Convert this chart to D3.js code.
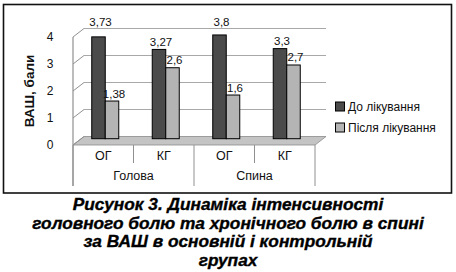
<!DOCTYPE html>
<html>
<head>
<meta charset="utf-8">
<script src="https://cdn.jsdelivr.net/npm/d3@7"></script>
<style>
  body { margin: 0; background: #fff; }
  text { font-family: "Liberation Sans", Arial, sans-serif; }
</style>
</head>
<body>
<svg id="chart"></svg>
<script>
// chart data
const categories = ["ОГ", "КГ", "ОГ", "КГ"];
const groups = ["Голова", "Спина"];
const series = ["До лікування", "Після лікування"];
const before = [3.73, 3.27, 3.8, 3.3];
const after = [1.38, 2.6, 1.6, 2.7];
const yTicks = [0, 1, 2, 3, 4];
const yTitle = "ВАШ, бали";
const caption = [
  "Рисунок 3. Динаміка інтенсивності",
  "головного болю та хронічного болю в спині",
  "за ВАШ в основній і контрольній",
  "групах"
];

const WIDTH = 456, HEIGHT = 272;
const colors = ["#4b4b4b", "#b4b4b4"];

// 3d depth offset of the back wall
const DX = 11, DY = -8.5;

const svg = d3.select("#chart").attr("width", WIDTH).attr("height", HEIGHT);

// frame
svg.append("rect")
  .attr("x", 3.5).attr("y", 4.5).attr("width", 448).attr("height", 188.5)
  .attr("fill", "none").attr("stroke", "#111").attr("stroke-width", 1.6);

const x = d3.scaleBand().domain(d3.range(categories.length)).range([73, 315]);
const xs = d3.scaleBand().domain(series).range([0, x.bandwidth()]).paddingOuter(1.24);
const yFront = d3.scaleLinear().domain([0, 4]).range([145, 37]);
const yBack = d3.scaleLinear().domain([0, 4]).range([136.5, 28.5]);
const yBar = d3.scaleLinear().domain([0, 4]).range([138.7, 29.5]);

const x0 = x.range()[0], x1 = x.range()[1];

// floor
svg.append("polygon")
  .attr("points", [[x0, yFront(0)], [x1, yFront(0)], [x1 + DX, yBack(0)], [x0 + DX, yBack(0)]].join(" "))
  .attr("fill", "#c4c4c4").attr("stroke", "#8a8a8a").attr("stroke-width", 0.8);

// back wall gridlines + slanted ticks
yTicks.filter(t => t > 0).forEach(t => {
  svg.append("line")
    .attr("x1", x0 + DX).attr("x2", x1 + DX)
    .attr("y1", yBack(t)).attr("y2", yBack(t))
    .attr("stroke", "#a8a8a8").attr("stroke-width", 1);
});
yTicks.forEach(t => {
  svg.append("line")
    .attr("x1", x0).attr("y1", yFront(t))
    .attr("x2", x0 + DX).attr("y2", yBack(t))
    .attr("stroke", "#909090").attr("stroke-width", 1);
});

// value axis line
svg.append("line")
  .attr("x1", x0).attr("x2", x0).attr("y1", yFront(4)).attr("y2", 186)
  .attr("stroke", "#909090").attr("stroke-width", 1.2);

svg.selectAll(".tick")
  .data(yTicks).enter().append("text")
  .attr("x", 50).attr("y", t => yFront(t) + 4)
  .attr("text-anchor", "middle").attr("font-size", 12).attr("fill", "#111")
  .text(d => d);

svg.append("text")
  .attr("transform", `translate(34,${(yFront(0) + yFront(4)) / 2}) rotate(-90)`)
  .attr("text-anchor", "middle").attr("font-size", 13.5).attr("font-weight", "bold")
  .attr("fill", "#111")
  .text(yTitle);

// bars
const barShift = 2;
const rows = categories.map((c, i) => ({ i, values: [before[i], after[i]] }));
rows.forEach(r => {
  r.values.forEach((v, k) => {
    const bx = x(r.i) + xs(series[k]) + barShift;
    svg.append("rect")
      .attr("x", bx).attr("y", yBar(v))
      .attr("width", xs.bandwidth()).attr("height", yBar(0) - yBar(v))
      .attr("fill", colors[k]).attr("stroke", "#000").attr("stroke-width", 1);
    // labels of tall bars go above the top gridline
    let ly = yBar(v) - 3.5;
    if (ly < yBack(4) + 8) ly = yBack(4) - 3;
    svg.append("text")
      .attr("x", bx + xs.bandwidth() / 2 + 2).attr("y", ly)
      .attr("text-anchor", "middle").attr("font-size", 11.5).attr("fill", "#111")
      .text(String(v).replace(".", ","));
  });
});

// category axis
d3.range(categories.length + 1).forEach(i => {
  const xx = i < categories.length ? x(i) : x1;
  const long = i % 2 === 0;
  svg.append("line")
    .attr("x1", xx).attr("x2", xx)
    .attr("y1", yFront(0)).attr("y2", long ? 186 : 163)
    .attr("stroke", "#909090").attr("stroke-width", 1);
});
svg.selectAll(".cat")
  .data(categories).enter().append("text")
  .attr("x", (d, i) => x(i) + x.bandwidth() / 2).attr("y", 160)
  .attr("text-anchor", "middle").attr("font-size", 12.5).attr("fill", "#111")
  .text(d => d);
svg.selectAll(".grp")
  .data(groups).enter().append("text")
  .attr("x", (d, i) => x(i * 2) + x.bandwidth()).attr("y", 180)
  .attr("text-anchor", "middle").attr("font-size", 12.5).attr("fill", "#111")
  .text(d => d);

// legend
series.forEach((s, k) => {
  const ly = 102 + k * 21;
  svg.append("rect")
    .attr("x", 335.5).attr("y", ly).attr("width", 9).attr("height", 9)
    .attr("fill", colors[k]).attr("stroke", "#000").attr("stroke-width", 1);
  svg.append("text")
    .attr("x", 348).attr("y", ly + 9)
    .attr("font-size", 12).attr("fill", "#111")
    .text(s);
});

// caption, slightly stretched like the scanned figure
const cap = svg.append("g").attr("transform", "translate(228,0) scale(1.08,1)");
cap.selectAll(".cap")
  .data(caption).enter().append("text")
  .attr("x", 0).attr("y", (d, i) => 210 + i * 18.6)
  .attr("text-anchor", "middle").attr("font-size", 16)
  .attr("font-weight", "bold").attr("font-style", "italic")
  .attr("fill", "#000").attr("stroke", "#000").attr("stroke-width", 0.35)
  .text(d => d);
</script>
</body>
</html>
